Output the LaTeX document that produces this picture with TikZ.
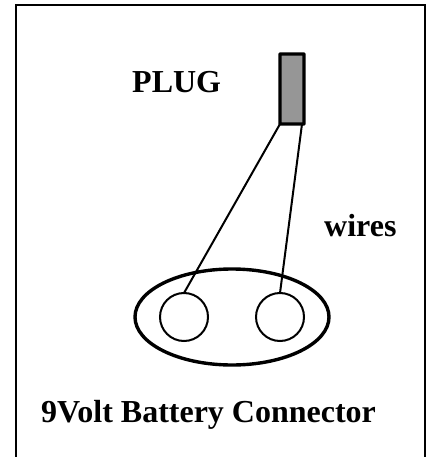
\documentclass[tikz,border=0pt]{standalone}
\usepackage{fontspec}
\setmainfont{Liberation Serif}
\tikzset{
  lbl/.style={font=\bfseries\fontsize{32}{38}\selectfont, text=black, inner sep=0pt, anchor=base west},
  plugbox/.style={draw=black, line width=3.4pt, fill=black!41, minimum width=24pt, minimum height=70pt, inner sep=0pt, outer sep=0pt, rounded corners=0.5pt},
  shell/.style={draw=black, line width=3.4pt, ellipse, minimum width=194pt, minimum height=96pt, inner sep=0pt, outer sep=0pt},
  term/.style={draw=black, line width=2pt, circle, minimum size=48pt, inner sep=0pt, outer sep=0pt},
  wire/.style={draw=black, line width=2pt},
  frameline/.style={draw=black, line width=1.5pt}
}
\usetikzlibrary{shapes.geometric}
\begin{document}
\begin{tikzpicture}[x=1pt,y=-1pt]
\useasboundingbox (0,0) rectangle (430,457);
\fill[white] (0,0) rectangle (430,457);
\draw[frameline] (16,457) -- (16,5) -- (425,5) -- (425,457);
\node[plugbox] (plug) at (292,89) {};
\node[shell] (shell) at (232,317) {};
\node[term] (t1) at (184,317) {};
\node[term] (t2) at (280,317) {};
\draw[wire] (plug.south west) -- (t1.north);
\draw[wire] ([xshift=-2pt]plug.south east) -- (t2.north);
\node[lbl] (plabel) at (132,93) {PLUG};
\node[lbl] (wlabel) at (324,236) {wires};
\node[lbl] (blabel) at (41,422.5) {9Volt Battery Connector};
\end{tikzpicture}
\end{document}
